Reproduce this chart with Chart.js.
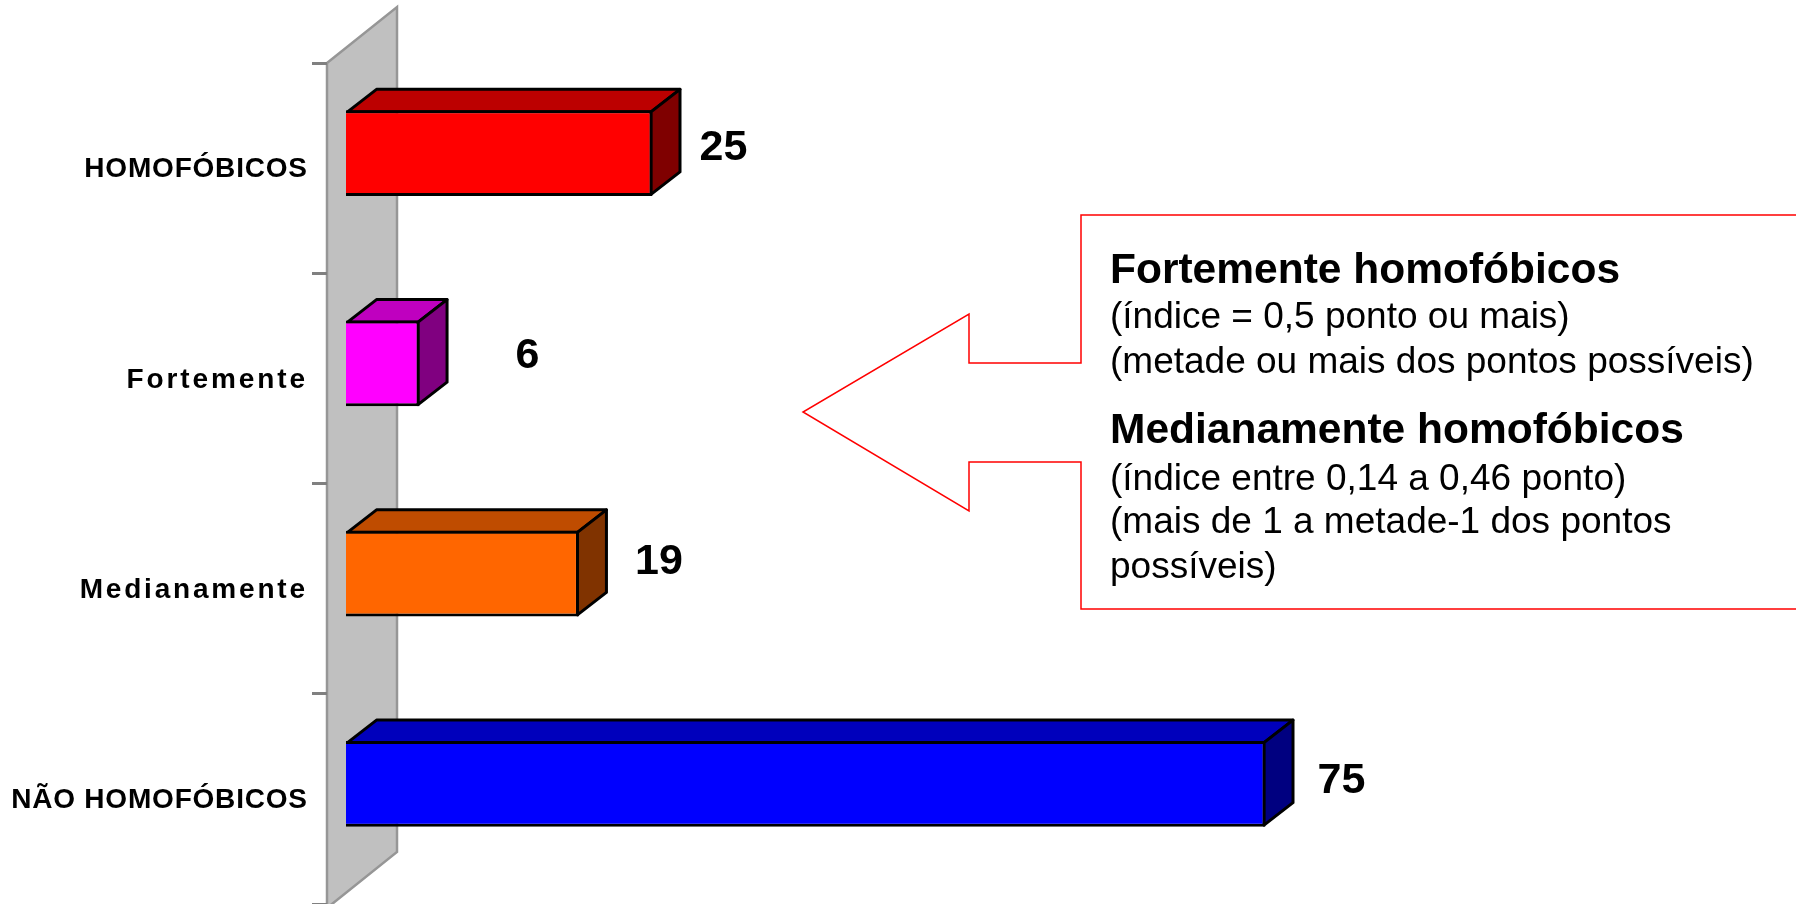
<!DOCTYPE html>
<html>
<head>
<meta charset="utf-8">
<style>
  html, body { margin: 0; padding: 0; background: #fff; overflow: hidden; }
  canvas { display: block; }
</style>
<script src="https://cdn.jsdelivr.net/npm/chart.js@4"></script>
</head>
<body>
<canvas id="chart" width="1796" height="904"></canvas>
<script>
const categories = ["HOMOFÓBICOS", "Fortemente", "Medianamente", "NÃO HOMOFÓBICOS"];
const values = [25, 6, 19, 75];

const frontColors = ["#FF0000", "#FF00FF", "#FF6600", "#0000FF"];
const topColors = ["#BC0000", "#BF00BF", "#BF4C00", "#0000BC"];
const sideColors = ["#7F0000", "#800080", "#803300", "#000080"];

// the value labels were moved by hand in the original, each one sits somewhere else
const labelShiftX = [71, 108, 80, 76];
const labelShiftY = [-5, -7, -11, -3];

// the axis labels are not spaced the same way either
const labelSpacing = [0.8, 2.9, 2.8, 0.8];
const labelRight = [307, 305, 305, 307];

const noteLines = [
  { text: "Fortemente homofóbicos", bold: true, y: 283 },
  { text: "(índice = 0,5 ponto ou mais)", bold: false, y: 328 },
  { text: "(metade ou mais dos pontos possíveis)", bold: false, y: 373 },
  { text: "Medianamente homofóbicos", bold: true, y: 443 },
  { text: "(índice entre 0,14 a 0,46 ponto)", bold: false, y: 490 },
  { text: "(mais de 1 a metade-1 dos pontos", bold: false, y: 533 },
  { text: "possíveis)", bold: false, y: 578 }
];

const FONT = '"Liberation Sans", Arial, sans-serif';

// gray wall behind the bars
const wallPlugin = {
  id: "wall",
  beforeDraw(chart) {
    const ctx = chart.ctx;
    const a = chart.chartArea;
    ctx.save();
    ctx.beginPath();
    ctx.moveTo(a.left, a.top);
    ctx.lineTo(a.left + 70, a.top - 56);
    ctx.lineTo(a.left + 70, a.bottom - 52);
    ctx.lineTo(a.left, a.bottom + 4);
    ctx.closePath();
    ctx.fillStyle = "#C0C0C0";
    ctx.fill();
    ctx.strokeStyle = "#969696";
    ctx.lineWidth = 2.5;
    ctx.stroke();
    ctx.restore();
  }
};

// category labels, from the y scale, with their own letter spacing
const axisLabelPlugin = {
  id: "axisLabels",
  afterDatasetsDraw(chart) {
    const ctx = chart.ctx;
    const scale = chart.scales.y;
    ctx.save();
    ctx.font = "bold 28px " + FONT;
    ctx.fillStyle = "#000";
    ctx.textAlign = "right";
    ctx.textBaseline = "middle";
    scale.ticks.forEach((tick, i) => {
      ctx.letterSpacing = labelSpacing[i] + "px";
      ctx.fillText(scale.getLabelForValue(tick.value), labelRight[i] + labelSpacing[i], scale.getPixelForTick(i) + 1.5);
    });
    ctx.restore();
  }
};

// side and top faces of the bars + value labels
const boxPlugin = {
  id: "box",
  beforeDatasetsDraw(chart) {
    const ctx = chart.ctx;
    ctx.save();
    ctx.translate(19, -15);
    const dx = 29, dy = 22.5;
    chart.getDatasetMeta(0).data.forEach((bar, i) => {
      const left = bar.base + 1.5;
      const right = bar.x - 1.5;
      const top = bar.y - bar.height / 2 + 1.5;
      const bottom = bar.y + bar.height / 2 - 1.5;
      ctx.strokeStyle = "#000";
      ctx.lineWidth = 3;
      ctx.lineJoin = "round";

      ctx.beginPath();
      ctx.moveTo(left, top);
      ctx.lineTo(left + dx, top - dy);
      ctx.lineTo(right + dx, top - dy);
      ctx.lineTo(right, top);
      ctx.closePath();
      ctx.fillStyle = topColors[i];
      ctx.fill();
      ctx.stroke();

      ctx.beginPath();
      ctx.moveTo(right, top);
      ctx.lineTo(right + dx, top - dy);
      ctx.lineTo(right + dx, bottom - dy);
      ctx.lineTo(right, bottom);
      ctx.closePath();
      ctx.fillStyle = sideColors[i];
      ctx.fill();
      ctx.stroke();
    });
  },
  afterDatasetsDraw(chart) {
    const ctx = chart.ctx;
    ctx.textAlign = "center";
    ctx.textBaseline = "middle";
    ctx.fillStyle = "#000";
    ctx.font = "bold 43px " + FONT;
    chart.getDatasetMeta(0).data.forEach((bar, i) => {
      ctx.fillText(String(values[i]), bar.x + labelShiftX[i], bar.y + labelShiftY[i]);
    });
    ctx.restore();
  }
};

// red arrow-shaped callout with the explanation
const notePlugin = {
  id: "note",
  afterDraw(chart) {
    const ctx = chart.ctx;
    ctx.save();
    ctx.beginPath();
    ctx.moveTo(1800, 215);
    ctx.lineTo(1081, 215);
    ctx.lineTo(1081, 363);
    ctx.lineTo(969, 363);
    ctx.lineTo(969, 314);
    ctx.lineTo(803, 412);
    ctx.lineTo(969, 511);
    ctx.lineTo(969, 462);
    ctx.lineTo(1081, 462);
    ctx.lineTo(1081, 609);
    ctx.lineTo(1800, 609);
    ctx.strokeStyle = "#FF0000";
    ctx.lineWidth = 1.5;
    ctx.stroke();

    ctx.fillStyle = "#000";
    ctx.textAlign = "left";
    ctx.textBaseline = "alphabetic";
    noteLines.forEach(line => {
      ctx.font = (line.bold ? "bold 42.5px " : "37px ") + FONT;
      ctx.fillText(line.text, 1110, line.y);
    });
    ctx.restore();
  }
};

new Chart(document.getElementById("chart"), {
  type: "bar",
  data: {
    labels: categories,
    datasets: [{
      data: values,
      backgroundColor: frontColors,
      borderColor: "#000",
      borderWidth: 3,
      categoryPercentage: 1,
      barPercentage: 0.407,
      clip: false
    }]
  },
  options: {
    indexAxis: "y",
    responsive: false,
    animation: false,
    layout: { autoPadding: false, padding: { top: 63, right: 243, bottom: 0, left: 0 } },
    plugins: { legend: { display: false }, tooltip: { enabled: false } },
    scales: {
      x: { display: false, min: 0, max: 100 },
      y: {
        afterFit(scale) { scale.width = 327; },
        border: { display: false },
        grid: { drawOnChartArea: false, tickLength: 15, tickWidth: 3, tickColor: "#808080" },
        ticks: { display: false, autoSkip: false }
      }
    }
  },
  plugins: [wallPlugin, boxPlugin, axisLabelPlugin, notePlugin]
});
</script>
</body>
</html>
